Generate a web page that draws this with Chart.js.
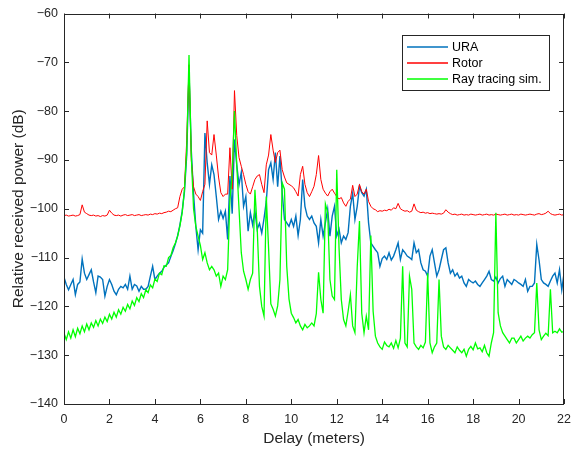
<!DOCTYPE html>
<html>
<head>
<meta charset="utf-8">
<script src="https://cdn.jsdelivr.net/npm/chart.js@4.4.1/dist/chart.umd.min.js"></script>
<style>
  html, body { margin: 0; padding: 0; background: #fff; }
  #wrap { width: 579px; height: 450px; }
</style>
</head>
<body>
<div id="wrap"><canvas id="powerChart" width="579" height="450"></canvas></div>
<script>
// delay grid (meters)
const delay = [
  0.0,0.1,0.2,0.3,0.4,0.5,0.6,0.7,0.8,0.9,
  1.0,1.1,1.2,1.3,1.4,1.5,1.6,1.7,1.8,1.9,
  2.0,2.1,2.2,2.3,2.4,2.5,2.6,2.7,2.8,2.9,
  3.0,3.1,3.2,3.3,3.4,3.5,3.6,3.7,3.8,3.9,
  4.0,4.1,4.2,4.3,4.4,4.5,4.6,4.7,4.8,4.9,
  5.0,5.1,5.2,5.3,5.4,5.5,5.6,5.7,5.8,5.9,
  6.0,6.1,6.2,6.3,6.4,6.5,6.6,6.7,6.8,6.9,
  7.0,7.1,7.2,7.3,7.4,7.5,7.6,7.7,7.8,7.9,
  8.0,8.1,8.2,8.3,8.4,8.5,8.6,8.7,8.8,8.9,
  9.0,9.1,9.2,9.3,9.4,9.5,9.6,9.7,9.8,9.9,
  10.0,10.1,10.2,10.3,10.4,10.5,10.6,10.7,10.8,10.9,
  11.0,11.1,11.2,11.3,11.4,11.5,11.6,11.7,11.8,11.9,
  12.0,12.1,12.2,12.3,12.4,12.5,12.6,12.7,12.8,12.9,
  13.0,13.1,13.2,13.3,13.4,13.5,13.6,13.7,13.8,13.9,
  14.0,14.1,14.2,14.3,14.4,14.5,14.6,14.7,14.8,14.9,
  15.0,15.1,15.2,15.3,15.4,15.5,15.6,15.7,15.8,15.9,
  16.0,16.1,16.2,16.3,16.4,16.5,16.6,16.7,16.8,16.9,
  17.0,17.1,17.2,17.3,17.4,17.5,17.6,17.7,17.8,17.9,
  18.0,18.1,18.2,18.3,18.4,18.5,18.6,18.7,18.8,18.9,
  19.0,19.1,19.2,19.3,19.4,19.5,19.6,19.7,19.8,19.9,
  20.0,20.1,20.2,20.3,20.4,20.5,20.6,20.7,20.8,20.9,
  21.0,21.1,21.2,21.3,21.4,21.5,21.6,21.7,21.8,21.9,
  22.0
];

// URA (dB)
const ura = [
  -114.0,-115.5,-116.6,-115.5,-114.5,-117.6,-115.5,-115.0,-110.3,-113.2,
  -114.5,-113.5,-112.5,-115.0,-117.2,-113.8,-114.0,-114.5,-117.9,-115.9,
  -114.5,-115.5,-116.9,-117.6,-116.5,-115.9,-116.2,-115.5,-116.5,-113.8,
  -116.5,-115.5,-115.8,-116.9,-115.9,-116.5,-116.5,-115.9,-113.8,-111.8,
  -114.5,-113.8,-113.2,-112.8,-112.0,-111.5,-111.1,-109.8,-108.6,-107.2,
  -105.5,-103.3,-100.5,-96.5,-89.0,-72.0,-88.0,-97.0,-103.6,-108.4,
  -104.3,-105.0,-84.5,-90.6,-95.0,-91.0,-93.0,-97.5,-102.2,-100.5,
  -102.0,-100.5,-106.3,-93.3,-101.0,-85.8,-91.0,-95.1,-92.5,-99.5,
  -97.5,-104.6,-100.8,-103.3,-100.5,-104.2,-103.0,-105.0,-102.0,-98.5,
  -92.0,-90.6,-94.0,-88.5,-95.5,-89.2,-96.7,-102.2,-102.9,-103.6,
  -102.2,-103.6,-101.5,-105.5,-102.2,-94.0,-99.5,-101.5,-102.2,-101.5,
  -102.9,-103.6,-107.0,-102.2,-105.6,-102.9,-100.1,-105.6,-101.5,-99.5,
  -105.6,-104.2,-107.0,-105.6,-106.3,-104.9,-99.5,-96.8,-102.2,-99.5,
  -95.4,-96.7,-97.4,-96.0,-102.9,-107.0,-107.7,-108.4,-109.0,-111.8,
  -110.2,-109.7,-110.4,-109.0,-110.5,-109.7,-108.4,-107.0,-110.4,-108.4,
  -109.0,-109.7,-110.0,-110.4,-107.0,-109.0,-108.4,-111.1,-112.5,-112.8,
  -113.8,-109.7,-108.4,-111.1,-113.8,-112.5,-110.4,-108.4,-108.0,-111.1,
  -113.2,-112.5,-113.8,-113.2,-114.2,-113.8,-115.2,-115.9,-114.5,-114.9,
  -115.2,-114.8,-115.5,-115.9,-115.2,-114.5,-113.8,-112.8,-114.5,-114.8,
  -114.0,-115.2,-114.3,-113.8,-115.9,-114.5,-115.0,-115.5,-114.5,-114.8,
  -115.2,-115.5,-115.9,-114.5,-116.9,-115.9,-115.9,-115.2,-107.3,-110.5,
  -114.5,-115.2,-115.5,-115.9,-114.8,-113.8,-113.2,-115.2,-112.5,-116.6,
  -113.2
];

// Rotor (dB)
const rotor = [
  -101.4,-101.3,-101.5,-101.4,-101.3,-101.5,-101.4,-101.2,-99.2,-100.7,
  -101.0,-101.3,-101.4,-101.3,-101.5,-101.4,-101.6,-101.4,-101.5,-101.3,
  -100.3,-100.9,-101.3,-101.4,-101.3,-101.5,-101.3,-101.2,-101.4,-101.3,
  -101.2,-101.4,-101.3,-101.2,-101.4,-101.3,-101.2,-101.3,-101.1,-101.2,
  -101.0,-101.1,-100.9,-101.0,-100.8,-100.7,-100.5,-100.6,-100.3,-100.0,
  -99.8,-97.5,-96.0,-95.5,-86.0,-70.5,-90.0,-95.5,-97.0,-97.5,
  -98.3,-96.5,-95.0,-82.0,-88.5,-89.0,-84.8,-89.0,-93.5,-96.7,
  -97.5,-97.0,-97.0,-87.5,-96.0,-75.8,-85.0,-89.5,-91.3,-93.0,
  -95.0,-96.5,-97.0,-95.5,-94.0,-93.3,-93.0,-95.0,-96.7,-91.0,
  -89.0,-84.8,-88.0,-90.5,-88.5,-88.0,-92.0,-93.5,-94.7,-95.0,
  -95.3,-95.7,-96.5,-97.4,-93.0,-91.3,-95.0,-96.7,-97.5,-96.5,
  -95.4,-93.0,-89.1,-94.0,-96.0,-96.8,-97.4,-96.5,-96.0,-96.8,
  -97.5,-98.0,-97.7,-98.8,-99.5,-98.5,-98.0,-95.2,-97.5,-97.0,
  -95.0,-96.5,-97.0,-96.0,-98.5,-99.5,-100.0,-100.2,-100.6,-100.4,
  -100.5,-100.3,-100.4,-100.1,-100.3,-99.8,-100.0,-98.9,-100.0,-100.3,
  -100.5,-100.4,-100.7,-100.5,-99.0,-100.3,-100.6,-100.8,-100.7,-100.9,
  -100.8,-101.0,-100.9,-101.0,-101.1,-101.0,-101.1,-100.9,-100.2,-100.7,
  -101.0,-101.2,-101.1,-101.3,-101.2,-101.1,-101.3,-101.2,-101.3,-101.1,
  -101.2,-101.3,-101.2,-101.1,-101.3,-101.2,-101.1,-101.3,-101.2,-101.3,
  -101.1,-101.2,-101.3,-101.2,-101.1,-101.3,-101.2,-101.1,-101.3,-101.2,
  -101.3,-101.1,-101.2,-101.3,-101.2,-101.1,-101.2,-101.3,-101.1,-101.0,
  -101.2,-101.1,-100.9,-100.5,-101.0,-101.2,-101.3,-101.2,-101.1,-101.3,
  -101.2
];

// Ray tracing sim. (dB)
const rayTracing = [
  -125.5,-126.8,-125.2,-126.5,-124.8,-126.2,-124.5,-125.6,-124.0,-125.2,
  -123.6,-124.8,-123.4,-124.3,-122.9,-124.0,-122.6,-123.5,-122.2,-123.1,
  -121.6,-122.6,-121.2,-122.2,-120.7,-121.6,-120.2,-121.0,-119.6,-120.5,
  -118.9,-119.8,-118.2,-119.0,-117.4,-118.2,-116.6,-117.2,-115.6,-116.2,
  -114.4,-114.9,-113.2,-113.5,-111.7,-111.8,-110.0,-109.6,-108.0,-107.0,
  -105.6,-103.5,-100.8,-96.0,-88.0,-68.5,-89.2,-100.0,-103.6,-105.6,
  -107.5,-110.4,-109.0,-111.1,-112.5,-111.8,-112.5,-113.8,-113.2,-115.9,
  -113.8,-114.5,-112.5,-98.1,-93.0,-80.0,-91.0,-100.0,-109.0,-112.8,
  -114.5,-116.5,-114.5,-113.2,-96.1,-104.0,-115.9,-120.0,-122.0,-97.5,
  -108.0,-119.5,-120.6,-122.0,-119.9,-114.5,-94.7,-96.0,-111.8,-118.5,
  -121.4,-122.3,-123.4,-122.7,-124.0,-124.8,-123.7,-124.4,-124.0,-123.4,
  -124.0,-121.5,-113.0,-118.6,-121.4,-99.0,-100.8,-114.5,-117.9,-118.6,
  -92.0,-108.0,-118.6,-122.7,-124.0,-121.0,-117.6,-124.0,-125.4,-112.0,
  -102.5,-121.4,-125.4,-122.0,-124.8,-105.5,-121.0,-126.1,-127.5,-128.3,
  -128.8,-127.3,-128.0,-128.3,-127.5,-128.6,-127.0,-128.5,-126.5,-111.8,
  -127.5,-128.3,-113.8,-116.5,-127.5,-128.3,-128.8,-128.0,-128.5,-127.3,
  -113.2,-127.5,-129.5,-128.3,-127.5,-114.5,-126.1,-128.3,-128.8,-128.0,
  -128.5,-129.0,-129.5,-128.3,-129.0,-129.5,-128.8,-130.2,-128.8,-128.2,
  -128.9,-127.5,-128.7,-128.5,-129.3,-128.0,-129.5,-130.2,-127.5,-125.4,
  -100.8,-121.3,-124.0,-125.4,-126.1,-126.8,-127.5,-126.5,-126.5,-127.5,
  -126.8,-126.1,-127.1,-126.5,-126.1,-126.5,-125.8,-125.4,-115.2,-124.8,
  -126.8,-126.1,-125.5,-126.0,-116.5,-125.4,-125.1,-125.4,-124.6,-125.3,
  -125.1
];

const seriesNames = ['URA', 'Rotor', 'Ray tracing sim.'];
const seriesColors = ['#0072BD', '#FF0000', '#00FF00'];
const seriesWidths = [1.4, 1, 1.3];
const FONT = "'Liberation Sans', Arial, sans-serif";
const AXIS_COLOR = '#262626';

function toPoints(values) {
  return values.map((v, i) => ({ x: delay[i], y: v }));
}

// MATLAB style box with inward ticks plus a boxed legend
const boxPlugin = {
  id: 'matlabBox',
  afterDatasetsDraw(chart) {
    const { ctx, chartArea: a, scales: { x, y } } = chart;
    ctx.save();
    ctx.strokeStyle = AXIS_COLOR;
    ctx.lineWidth = 1;
    ctx.beginPath();
    x.ticks.forEach(t => {
      const px = Math.round(x.getPixelForValue(t.value)) + 0.5;
      ctx.moveTo(px, a.bottom); ctx.lineTo(px, a.bottom - 5);
      ctx.moveTo(px, a.top); ctx.lineTo(px, a.top + 5);
    });
    y.ticks.forEach(t => {
      const py = Math.round(y.getPixelForValue(t.value)) + 0.5;
      ctx.moveTo(a.left, py); ctx.lineTo(a.left + 5, py);
      ctx.moveTo(a.right, py); ctx.lineTo(a.right - 5, py);
    });
    ctx.stroke();
    ctx.strokeRect(Math.round(a.left) + 0.5, Math.round(a.top) + 0.5,
                   Math.round(a.width) - 1, Math.round(a.height) - 1);

    // legend
    const lx = 402, ly = 35, lw = 147, lh = 55;
    ctx.fillStyle = '#fff';
    ctx.fillRect(lx, ly, lw, lh);
    ctx.strokeStyle = AXIS_COLOR;
    ctx.strokeRect(lx + 0.5, ly + 0.5, lw, lh);
    ctx.font = '12.5px ' + FONT;
    ctx.textBaseline = 'middle';
    seriesNames.forEach((name, i) => {
      const cy = ly + 12 + i * 16;
      ctx.strokeStyle = seriesColors[i];
      ctx.lineWidth = 1.5;
      ctx.beginPath();
      ctx.moveTo(lx + 5, cy);
      ctx.lineTo(lx + 46, cy);
      ctx.stroke();
      ctx.fillStyle = '#000';
      ctx.fillText(name, lx + 50, cy + 1);
    });
    ctx.restore();
  }
};

const tickFont = { family: FONT, size: 12.5 };
const titleFont = { family: FONT, size: 15.5 };

new Chart(document.getElementById('powerChart'), {
  type: 'line',
  data: {
    datasets: seriesNames.map((name, i) => ({
      label: name,
      data: toPoints([ura, rotor, rayTracing][i]),
      borderColor: seriesColors[i],
      borderWidth: seriesWidths[i],
      pointRadius: 0,
      tension: 0,
      fill: false,
      order: 2 - i
    }))
  },
  options: {
    responsive: false,
    animation: false,
    events: [],
    layout: { padding: { top: 13, right: 8, left: 0, bottom: 0 } },
    plugins: {
      legend: { display: false },
      tooltip: { enabled: false }
    },
    scales: {
      x: {
        type: 'linear',
        min: 0,
        max: 22,
        grid: { display: false, drawTicks: false },
        border: { display: false },
        ticks: { stepSize: 2, padding: 8, color: AXIS_COLOR, font: tickFont, maxRotation: 0 },
        title: { display: true, text: 'Delay (meters)', color: AXIS_COLOR, font: titleFont, padding: { top: 0, bottom: 2 } },
        afterFit(scale) { scale.height = 46; }
      },
      y: {
        min: -140,
        max: -60,
        grid: { display: false, drawTicks: false },
        border: { display: false },
        ticks: {
          stepSize: 10, padding: 6, color: AXIS_COLOR, font: tickFont,
          callback: v => String(v).replace('-', '\u2212')
        },
        title: { display: true, text: 'Relative received power (dB)', color: AXIS_COLOR, font: titleFont, padding: { top: 9, bottom: 0 } },
        afterFit(scale) { scale.width = 64; }
      }
    }
  },
  plugins: [boxPlugin]
});
</script>
</body>
</html>
